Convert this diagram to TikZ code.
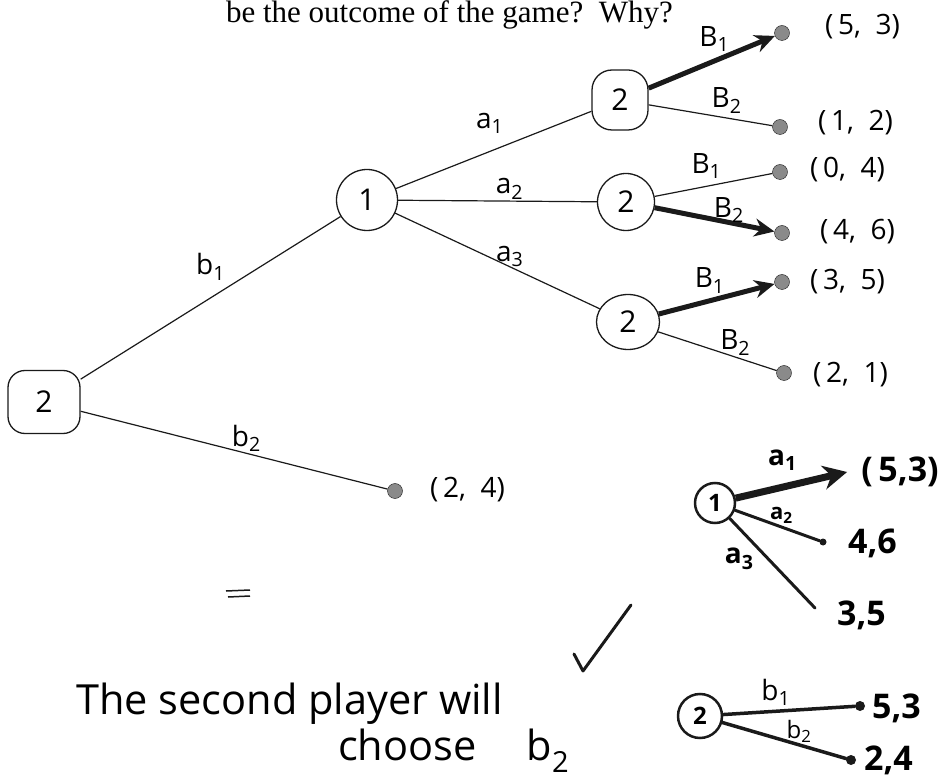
\documentclass[tikz,border=0pt]{standalone}
\usepackage{fontspec}
\setmainfont{Liberation Serif}
\newfontfamily\handfont{Open Sans}
\usepackage{xcolor}
\definecolor{cInk}{HTML}{1A1A1A}
\definecolor{cLeaf}{HTML}{8A8A8A}
\usetikzlibrary{positioning,arrows.meta,shapes.geometric}
\newcommand{\payoff}[2]{(\,#1,\ \ #2)}
\tikzset{
  node-box/.style={draw=cInk,line width=1.3pt,rounded corners=17pt,minimum width=72pt,
    minimum height=63pt,inner sep=0pt,font=\handfont\fontsize{30}{32}\selectfont},
  node-round/.style={draw=cInk,line width=1.3pt,circle,minimum size=61pt,inner sep=0pt,
    font=\handfont\fontsize{30}{32}\selectfont},
  node-small/.style={draw=cInk,line width=2.5pt,circle,minimum size=40pt,inner sep=0pt,
    font=\handfont\bfseries\fontsize{24}{26}\selectfont},
  node-leaf/.style={draw=cInk,fill=cLeaf,circle,minimum size=15pt,inner sep=0pt},
  node-dot/.style={fill=cInk,circle,minimum size=10pt,inner sep=0pt},
  node-pay/.style={font=\handfont\fontsize{28}{30}\selectfont,inner sep=0pt},
  node-paybold/.style={font=\handfont\bfseries\fontsize{34}{36}\selectfont,inner sep=0pt},
  node-lbl/.style={font=\handfont\fontsize{28}{30}\selectfont,inner sep=1pt},
  node-lblbold/.style={font=\handfont\bfseries\fontsize{28}{30}\selectfont,inner sep=1pt},
  node-hand/.style={font=\handfont\fontsize{41.5}{44}\selectfont,inner sep=0pt},
  edge-move/.style={draw=cInk,line width=1.2pt},
  edge-best/.style={-{Stealth[length=20pt,width=18pt]},draw=cInk,line width=5pt},
  edge-pen/.style={draw=cInk,line width=3pt,line cap=round,line join=round},
}

\begin{document}
\begin{tikzpicture}[x=1pt,y=-1pt]
  \useasboundingbox (0,0) rectangle (948,783);
  \node[anchor=base east,font=\fontsize{31}{33}\selectfont,inner sep=0pt] (title) at (673,23)
    {be the outcome of the game?\ \ Why?};
  % game tree
  \node[node-box] (r) at (44,402) {2};
  \node[node-round] (p1) at (367,200) {1};
  \node[node-box,minimum width=56pt,minimum height=60pt,rounded corners=20pt] (p2a) at (620,100) {2};
  \node[node-round,minimum size=57pt] (p2b) at (626,202) {2};
  \node[node-round,ellipse,minimum width=63pt,minimum height=55pt] (p2c) at (628,322) {2};
  \node[node-leaf] (l0) at (395,491) {};
  \node[node-leaf] (l1) at (782,33) {};
  \node[node-leaf] (l2) at (780,127) {};
  \node[node-leaf] (l3) at (780,172) {};
  \node[node-leaf] (l4) at (782,233) {};
  \node[node-leaf] (l5) at (782,282) {};
  \node[node-leaf] (l6) at (784,373) {};
  \node[node-pay,anchor=west] (u0) at (430,490) {\payoff{2}{4}};
  \node[node-pay,anchor=west] (u1) at (825,27) {\payoff{5}{3}};
  \node[node-pay,anchor=west] (u2) at (818,123) {\payoff{1}{2}};
  \node[node-pay,anchor=west] (u3) at (810,170) {\payoff{0}{4}};
  \node[node-pay,anchor=west] (u4) at (820,232) {\payoff{4}{6}};
  \node[node-pay,anchor=west] (u5) at (810,282) {\payoff{3}{5}};
  \node[node-pay,anchor=west] (u6) at (813,375) {\payoff{2}{1}};
  \draw[edge-move] (r) -- node[node-lbl,pos=0.5,above=16pt] {b\textsubscript{1}} (p1);
  \draw[edge-move] (r) -- node[node-lbl,pos=0.54,above=0pt] {b\textsubscript{2}} (l0);
  \draw[edge-move] (p1) -- node[node-lbl,pos=0.48,above=16pt] {a\textsubscript{1}} (p2a);
  \draw[edge-move] (p1) -- node[node-lbl,pos=0.56,above=0pt] {a\textsubscript{2}} (p2b);
  \draw[edge-move] (p1) -- node[node-lbl,pos=0.56,above=-2pt] {a\textsubscript{3}} (p2c);
  \draw[edge-best] (p2a) -- node[node-lbl,pos=0.52,above=6pt] {B\textsubscript{1}} (l1);
  \draw[edge-move] (p2a) -- node[node-lbl,pos=0.63,above=3pt] {B\textsubscript{2}} (l2);
  \draw[edge-move] (p2b) -- node[node-lbl,pos=0.44,above=6pt] {B\textsubscript{1}} (l3);
  \draw[edge-best] (p2b) -- node[node-lbl,pos=0.62,above=-4pt] {B\textsubscript{2}} (l4);
  \draw[edge-best] (p2c) -- node[node-lbl,pos=0.44,above=4pt] {B\textsubscript{1}} (l5);
  \draw[edge-move] (p2c) -- node[node-lbl,pos=0.65,above=0pt] {B\textsubscript{2}} (l6);
  % handwritten answer
  \draw[edge-move,line width=1.5pt] (226,591) -- (250,590) (228,597) -- (250,596);
  \node[node-hand,anchor=base west] (ans) at (76,714) {The second player will};
  \node[node-hand,anchor=base west] (ans2) at (338,760) {choose\hspace{50pt}b\textsubscript{2}};
  \draw[edge-pen] (574,654) -- (583,671) -- (631,605);
  % backward induction, player 1
  \node[node-small] (c1) at (715,503) {1};
  \node[node-paybold] (q1) at (900,472) {(\,5,3)};
  \node[node-dot,minimum size=7pt] (q2) at (823,542) {};
  \node[node-paybold,anchor=west] (v2) at (848,543) {4,6};
  \coordinate (q3) at (815,608);
  \node[node-paybold,anchor=west] (v3) at (837,615) {3,5};
  \draw[edge-best,line width=7pt,-{Stealth[length=24pt,width=24pt]}] (c1) --
    node[node-lblbold,pos=0.42,above=12pt] {a\textsubscript{1}} ([xshift=-14pt]q1.west);
  \draw[edge-pen] (c1) -- node[node-lblbold,font=\handfont\bfseries\fontsize{22}{24}\selectfont,pos=0.55,above=1pt] {a\textsubscript{2}} (q2);
  \draw[edge-pen] (c1) -- node[node-lblbold,pos=0.45,left=12pt] {a\textsubscript{3}} (q3);
  % backward induction, player 2
  \node[node-small,minimum height=44pt] (c2) at (700,716) {2};
  \node[node-dot] (d1) at (860,706) {};
  \node[node-dot] (d2) at (851,760) {};
  \node[node-paybold,anchor=west] (w1) at (872,708) {5,3};
  \node[node-paybold,anchor=west] (w2) at (864,760) {2,4};
  \draw[edge-pen,line width=3.5pt] (c2) -- node[node-lbl,pos=0.4,above=3pt] {b\textsubscript{1}} (d1);
  \draw[edge-pen,line width=3.5pt] (c2) -- node[node-lbl,font=\handfont\fontsize{24}{26}\selectfont,pos=0.62,above=0pt] {b\textsubscript{2}} (d2);
\end{tikzpicture}
\end{document}
